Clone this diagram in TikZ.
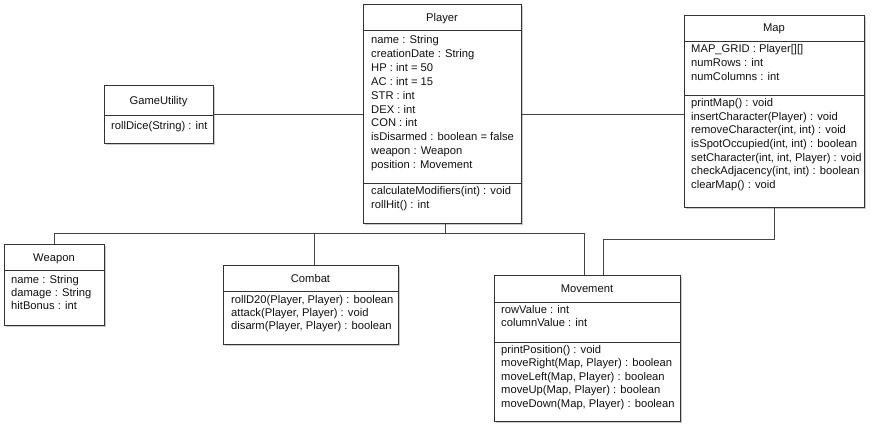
\documentclass[tikz,border=0pt]{standalone}
\usepackage{fontspec}
\setmainfont{Liberation Sans}
\usetikzlibrary{shadows,calc}
\definecolor{bordc}{HTML}{333333}
\definecolor{linec}{HTML}{444444}
\definecolor{txtc}{HTML}{111111}
\begin{document}
\begin{tikzpicture}[x=1pt,y=-1pt,
  cls/.style={draw=bordc, line width=0.8pt, fill=white, anchor=north west, inner sep=0pt, outer sep=0pt,
    drop shadow={shadow xshift=1.5pt, shadow yshift=-1.5pt, opacity=0.35, fill=black!60}},
  sepline/.style={draw=bordc, line width=0.8pt},
  conn/.style={draw=linec, line width=0.8pt},
  ttl/.style={anchor=base, inner sep=0pt, font=\fontsize{11.2}{13.7}\selectfont, text=txtc},
  txt/.style={anchor=base west, inner sep=0pt, font=\fontsize{11.2}{13.7}\selectfont, text=txtc}]
\useasboundingbox (0,0) rectangle (871,426);

% ---------- class boxes ----------
\node[cls, minimum width=158pt, minimum height=219pt] (player) at (363,4) {};
\node[cls, minimum width=180pt, minimum height=192pt] (map) at (684,15) {};
\node[cls, minimum width=109pt, minimum height=58pt] (gameutility) at (104,85) {};
\node[cls, minimum width=100pt, minimum height=81pt] (weapon) at (4,244) {};
\node[cls, minimum width=175pt, minimum height=79pt] (combat) at (223,265) {};
\node[cls, minimum width=186pt, minimum height=146pt] (movement) at (494,275) {};

% ---------- compartment separators ----------
\draw[sepline] ($(player.north west)+(0,26)$) -- ($(player.north east)+(0,26)$);
\draw[sepline] ($(player.north west)+(0,179)$) -- ($(player.north east)+(0,179)$);
\draw[sepline] ($(map.north west)+(0,26)$) -- ($(map.north east)+(0,26)$);
\draw[sepline] ($(map.north west)+(0,80)$) -- ($(map.north east)+(0,80)$);
\draw[sepline] ($(gameutility.north west)+(0,30)$) -- ($(gameutility.north east)+(0,30)$);
\draw[sepline] ($(weapon.north west)+(0,26)$) -- ($(weapon.north east)+(0,26)$);
\draw[sepline] ($(combat.north west)+(0,26)$) -- ($(combat.north east)+(0,26)$);
\draw[sepline] ($(movement.north west)+(0,27)$) -- ($(movement.north east)+(0,27)$);
\draw[sepline] ($(movement.north west)+(0,67)$) -- ($(movement.north east)+(0,67)$);

% ---------- titles ----------
\node[ttl] (playerT) at (442,21.3) {Player};
\node[ttl] (mapT) at (774,31.8) {Map};
\node[ttl] (gameutilityT) at (158.5,104) {GameUtility};
\node[ttl] (weaponT) at (54,261) {Weapon};
\node[ttl] (combatT) at (310.5,282) {Combat};
\node[ttl] (movementT) at (587,292.5) {Movement};

% ---------- Player ----------
\foreach \t [count=\i] in {name : String, creationDate : String, HP : int = 50, AC : int = 15, STR : int, DEX : int, CON : int, isDisarmed : boolean = false, weapon : Weapon, position : Movement}
  \node[txt, name=pa\i] at (371,{43.5+13.9*(\i-1)}) {\t};
\foreach \t [count=\i] in {calculateModifiers(int) : void, rollHit() : int}
  \node[txt, name=pm\i] at (371,{194.7+13.5*(\i-1)}) {\t};

% ---------- Map ----------
\foreach \t [count=\i] in {MAP\_GRID : Player[][], numRows : int, numColumns : int}
  \node[txt, name=ma\i] at (691,{52.7+13.8*(\i-1)}) {\t};
\foreach \t [count=\i] in {printMap() : void, {insertCharacter(Player) : void}, {removeCharacter(int, int) : void}, {isSpotOccupied(int, int) : boolean}, {setCharacter(int, int, Player) : void}, {checkAdjacency(int, int) : boolean}, clearMap() : void}
  \node[txt, name=mm\i] at (691,{106.3+13.73*(\i-1)}) {\t};

% ---------- GameUtility ----------
\node[txt] (gm1) at (111,129) {rollDice(String) : int};

% ---------- Weapon ----------
\foreach \t [count=\i] in {name : String, damage : String, hitBonus : int}
  \node[txt, name=wa\i] at (11,{283+13.3*(\i-1)}) {\t};

% ---------- Combat ----------
\foreach \t [count=\i] in {{rollD20(Player, Player) : boolean}, {attack(Player, Player) : void}, {disarm(Player, Player) : boolean}}
  \node[txt, name=cm\i] at (231,{303+13.4*(\i-1)}) {\t};

% ---------- Movement ----------
\foreach \t [count=\i] in {rowValue : int, columnValue : int}
  \node[txt, name=va\i] at (501,{313+13.5*(\i-1)}) {\t};
\foreach \t [count=\i] in {printPosition() : void, {moveRight(Map, Player) : boolean}, {moveLeft(Map, Player) : boolean}, {moveUp(Map, Player) : boolean}, {moveDown(Map, Player) : boolean}}
  \node[txt, name=vm\i] at (501,{353+13.6*(\i-1)}) {\t};

% ---------- connectors ----------
\coordinate (busL) at (54,233);
\coordinate (busR) at (584,233);
\coordinate (pj) at (445,233);
\coordinate (cj) at (314,233);
\coordinate (mj) at (603,239);
\draw[conn] (weapon.north) -- (weapon.north |- busL) -- (busR) -- (busR |- movement.north);
\draw[conn] (pj |- player.south) -- (pj);
\draw[conn] (cj) -- (cj |- combat.north);
\draw[conn] (mj |- movement.north) -- (mj) -- (mj -| map.south) -- (map.south);
\draw[conn] (gameutility.east) -- (gameutility.east -| player.west);
\draw[conn] (player.east |- gameutility.east) -- (map.west |- gameutility.east);
\end{tikzpicture}
\end{document}
